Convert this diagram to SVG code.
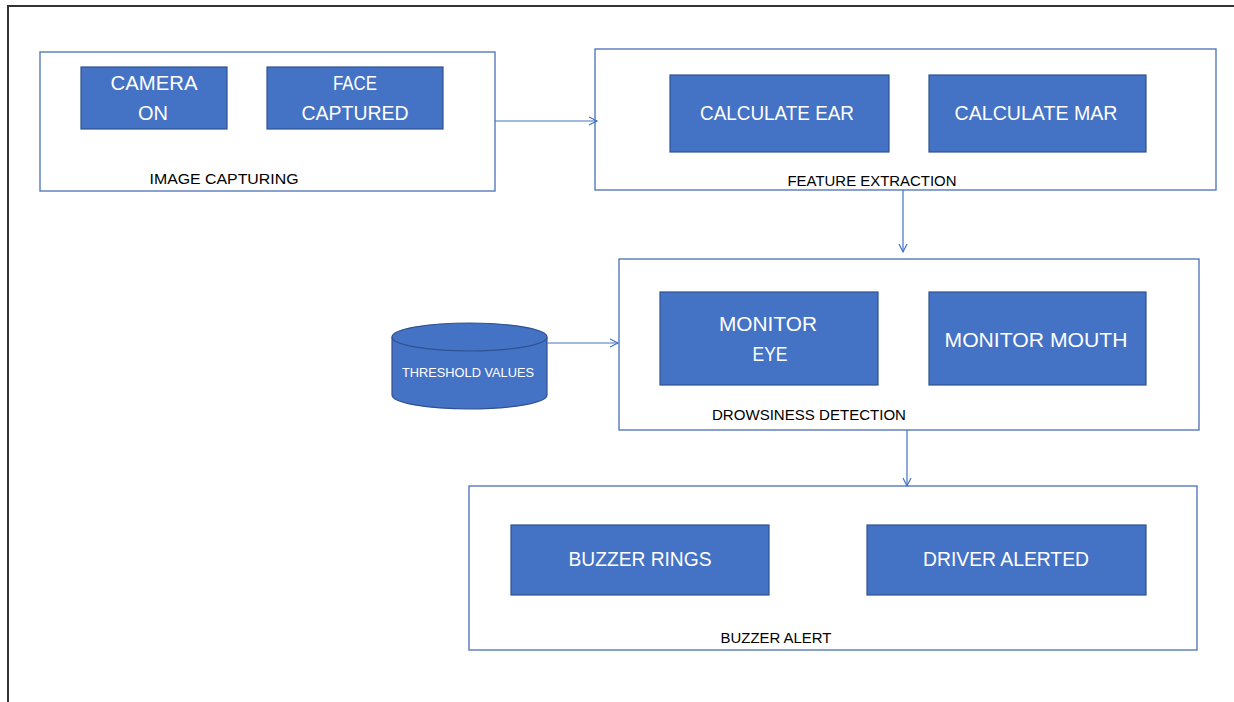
<svg xmlns="http://www.w3.org/2000/svg" width="1234" height="702" viewBox="0 0 1234 702">
<style>
.frame{fill:#fff;stroke:#4A6FB5;stroke-width:1.3}
.blk{fill:#4472C4;stroke:#2F528F;stroke-width:1.2}
.t{font-family:"Liberation Sans",Arial,sans-serif;font-size:21px;fill:#fff;text-anchor:middle}
.lbl{font-family:"Liberation Sans",Arial,sans-serif;font-size:15.5px;fill:#000;text-anchor:middle}
.cyl{font-family:"Liberation Sans",Arial,sans-serif;font-size:13px;fill:#fff;text-anchor:middle}
.con{stroke:#4472C4;stroke-width:1.2;fill:none}
</style>
<defs>
<marker id="arr" markerUnits="userSpaceOnUse" markerWidth="12" markerHeight="12" refX="9" refY="5" orient="auto">
<path d="M1,1 L9,5 L1,9" fill="none" stroke="#4472C4" stroke-width="1.2"/>
</marker>
</defs>
<rect width="1234" height="702" fill="#fff"/>
<path d="M8,702 L8,6 L1234,6" fill="none" stroke="#333" stroke-width="2"/>

<g id="image-capturing">
<rect class="frame" x="40" y="52" width="455" height="139"/>
<rect class="blk" x="81" y="67" width="146" height="62"/>
<text class="t" x="154" y="90" textLength="87" lengthAdjust="spacingAndGlyphs">CAMERA</text>
<text class="t" x="153" y="120" textLength="30" lengthAdjust="spacingAndGlyphs">ON</text>
<rect class="blk" x="267" y="67" width="176" height="62"/>
<text class="t" x="355" y="90" textLength="44" lengthAdjust="spacingAndGlyphs">FACE</text>
<text class="t" x="355" y="120" textLength="107" lengthAdjust="spacingAndGlyphs">CAPTURED</text>
<text class="lbl" x="224" y="184" textLength="149" lengthAdjust="spacingAndGlyphs">IMAGE CAPTURING</text>
</g>

<g id="feature-extraction">
<rect class="frame" x="595" y="49" width="621" height="141"/>
<rect class="blk" x="670" y="75" width="219" height="77"/>
<text class="t" x="777" y="120" textLength="154" lengthAdjust="spacingAndGlyphs">CALCULATE EAR</text>
<rect class="blk" x="929" y="75" width="217" height="77"/>
<text class="t" x="1036" y="120" textLength="163" lengthAdjust="spacingAndGlyphs">CALCULATE MAR</text>
<text class="lbl" x="872" y="186" textLength="169" lengthAdjust="spacingAndGlyphs">FEATURE EXTRACTION</text>
</g>

<g id="drowsiness-detection">
<rect class="frame" x="619" y="259" width="580" height="171"/>
<rect class="blk" x="660" y="292" width="218" height="93"/>
<text class="t" x="768" y="331" textLength="98" lengthAdjust="spacingAndGlyphs">MONITOR</text>
<text class="t" x="770" y="361" textLength="35" lengthAdjust="spacingAndGlyphs">EYE</text>
<rect class="blk" x="929" y="292" width="217" height="93"/>
<text class="t" x="1036" y="347" textLength="183" lengthAdjust="spacingAndGlyphs">MONITOR MOUTH</text>
<text class="lbl" x="809" y="420" textLength="194" lengthAdjust="spacingAndGlyphs">DROWSINESS DETECTION</text>
</g>

<g id="threshold-values">
<path class="blk" d="M392,337 A77.5,14 0 0 1 547,337 L547,395 A77.5,14 0 0 1 392,395 Z"/>
<path d="M392,337 A77.5,14 0 0 0 547,337" fill="none" stroke="#2F528F" stroke-width="1.2"/>
<text class="cyl" x="468" y="377" textLength="132" lengthAdjust="spacingAndGlyphs">THRESHOLD VALUES</text>
</g>

<g id="buzzer-alert">
<rect class="frame" x="469" y="486" width="728" height="164"/>
<rect class="blk" x="511" y="525" width="258" height="70"/>
<text class="t" x="640" y="566" textLength="143" lengthAdjust="spacingAndGlyphs">BUZZER RINGS</text>
<rect class="blk" x="867" y="525" width="279" height="70"/>
<text class="t" x="1006" y="566" textLength="166" lengthAdjust="spacingAndGlyphs">DRIVER ALERTED</text>
<text class="lbl" x="776" y="643" textLength="111" lengthAdjust="spacingAndGlyphs">BUZZER ALERT</text>
</g>

<g id="connectors">
<line class="con" x1="495" y1="121" x2="597" y2="121" marker-end="url(#arr)"/>
<line class="con" x1="903" y1="190" x2="903" y2="252" marker-end="url(#arr)"/>
<line class="con" x1="547" y1="343" x2="618" y2="343" marker-end="url(#arr)"/>
<line class="con" x1="907" y1="430" x2="907" y2="486" marker-end="url(#arr)"/>
</g>
</svg>
